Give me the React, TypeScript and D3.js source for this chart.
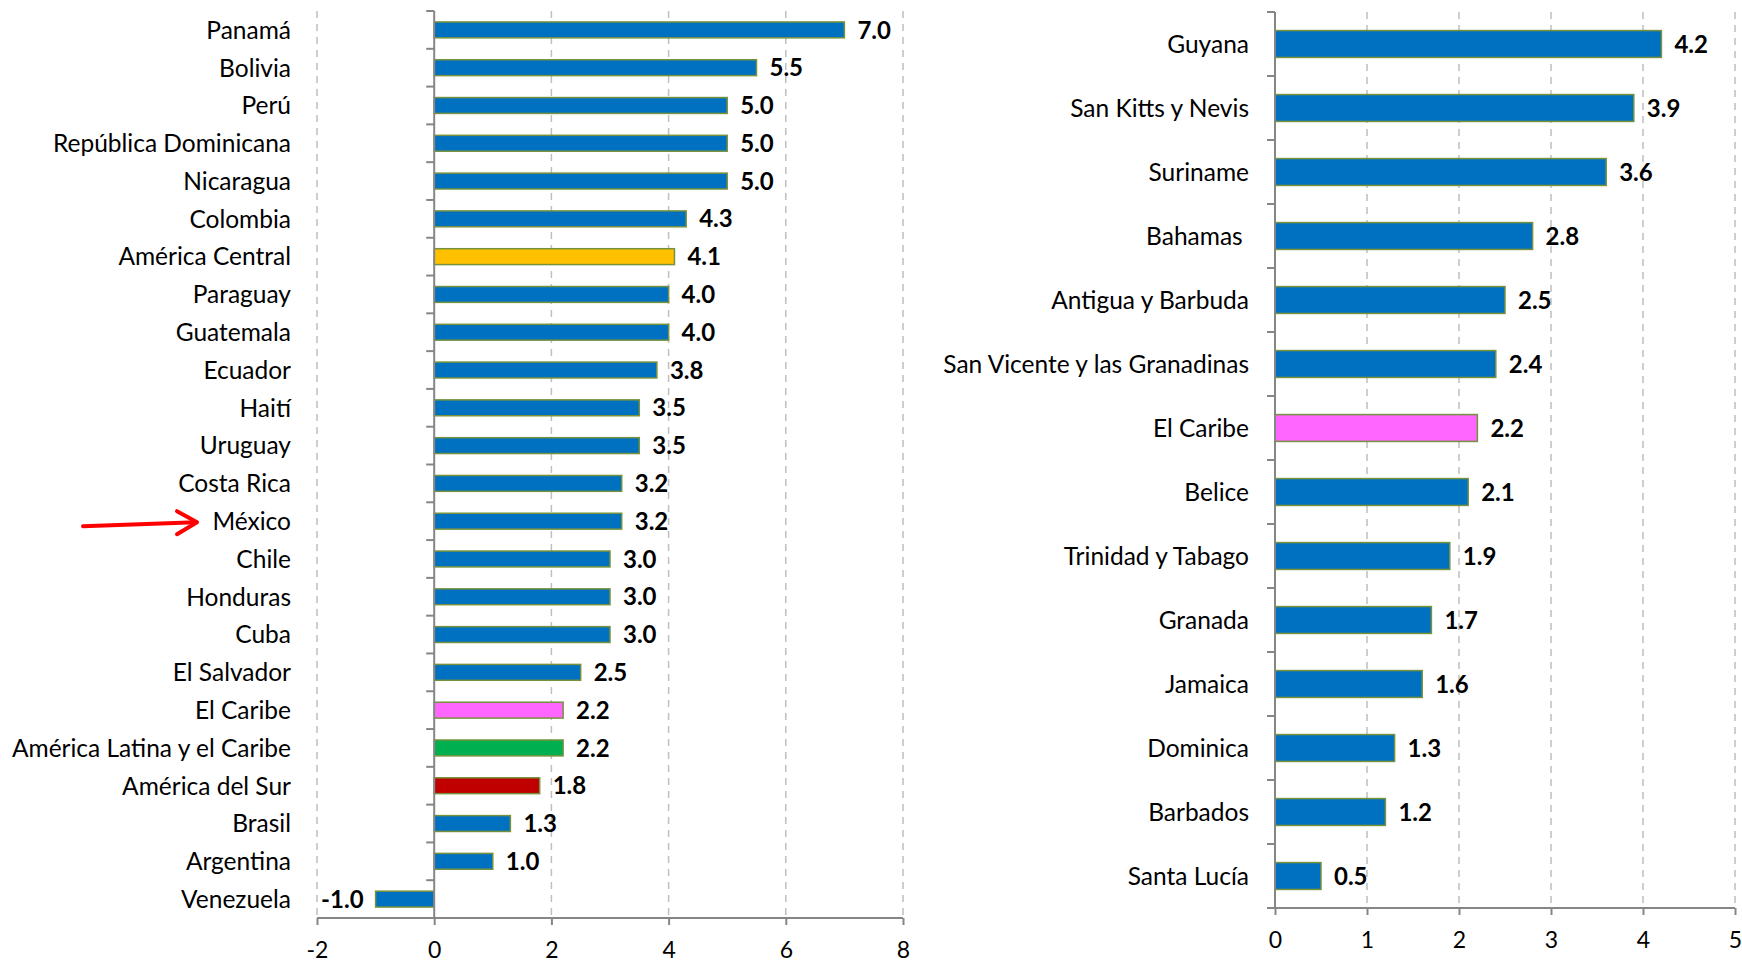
import { useEffect, useRef } from 'react';
import * as d3 from 'd3';

// Left panel: América Latina
const leftCategories = [
  'Panamá', 'Bolivia', 'Perú', 'República Dominicana', 'Nicaragua', 'Colombia',
  'América Central', 'Paraguay', 'Guatemala', 'Ecuador', 'Haití', 'Uruguay',
  'Costa Rica', 'México', 'Chile', 'Honduras', 'Cuba', 'El Salvador', 'El Caribe',
  'América Latina y el Caribe', 'América del Sur', 'Brasil', 'Argentina', 'Venezuela',
];
const leftValues = [
  7.0, 5.5, 5.0, 5.0, 5.0, 4.3, 4.1, 4.0, 4.0, 3.8, 3.5, 3.5,
  3.2, 3.2, 3.0, 3.0, 3.0, 2.5, 2.2, 2.2, 1.8, 1.3, 1.0, -1.0,
];
const leftTicks = [-2, 0, 2, 4, 6, 8];

// Right panel: El Caribe
const rightCategories = [
  'Guyana', 'San Kitts y Nevis', 'Suriname', 'Bahamas ', 'Antigua y Barbuda',
  'San Vicente y las Granadinas', 'El Caribe', 'Belice', 'Trinidad y Tabago',
  'Granada', 'Jamaica', 'Dominica', 'Barbados', 'Santa Lucía',
];
const rightValues = [4.2, 3.9, 3.6, 2.8, 2.5, 2.4, 2.2, 2.1, 1.9, 1.7, 1.6, 1.3, 1.2, 0.5];
const rightTicks = [0, 1, 2, 3, 4, 5];

const highlight: Record<string, string> = {
  'América Central': '#FFC000',
  'El Caribe': '#FF66FF',
  'América Latina y el Caribe': '#00B050',
  'América del Sur': '#C00000',
};

const FONT = 'Lato, "Open Sans", sans-serif';

type Panel = {
  cats: string[];
  vals: number[];
  ticks: number[];
  x0: number;
  x1: number;
  top: number;
  bottom: number;
  labelX: number;
};

function drawPanel(svg: d3.Selection<SVGSVGElement, unknown, null, undefined>, p: Panel) {
  const g = svg.append('g');
  const x = d3.scaleLinear()
    .domain([p.ticks[0], p.ticks[p.ticks.length - 1]])
    .range([p.x0, p.x1]);
  const y = d3.scaleBand<string>()
    .domain(p.cats)
    .range([p.top, p.bottom])
    .paddingInner(0.58)
    .paddingOuter(0.29);
  const step = y.step();

  // dashed vertical gridlines
  g.selectAll('line.grid')
    .data(p.ticks.filter(t => t !== 0))
    .join('line')
    .attr('x1', d => x(d)).attr('x2', d => x(d))
    .attr('y1', p.top).attr('y2', p.bottom)
    .attr('stroke', '#BFBFBF')
    .attr('stroke-width', 1.5)
    .attr('stroke-dasharray', '7,6');

  // bars
  g.selectAll('rect.bar')
    .data(p.cats)
    .join('rect')
    .attr('x', (_, i) => x(Math.min(0, p.vals[i])))
    .attr('y', d => y(d)!)
    .attr('width', (_, i) => Math.abs(x(p.vals[i]) - x(0)))
    .attr('height', y.bandwidth())
    .attr('fill', d => highlight[d] ?? '#0070C0')
    .attr('stroke', '#76923C')
    .attr('stroke-width', 1.5);

  // value labels
  g.selectAll('text.val')
    .data(p.cats)
    .join('text')
    .attr('x', (_, i) => x(p.vals[i]) + (p.vals[i] < 0 ? -12 : 13))
    .attr('y', d => y(d)! + y.bandwidth() / 2)
    .attr('dy', '0.36em')
    .attr('text-anchor', (_, i) => (p.vals[i] < 0 ? 'end' : 'start'))
    .attr('font-family', FONT)
    .attr('font-weight', 700)
    .attr('font-size', 24)
    .attr('fill', '#000')
    .text((_, i) => p.vals[i].toFixed(1));

  // category labels
  g.selectAll('text.cat')
    .data(p.cats)
    .join('text')
    .attr('x', p.labelX)
    .attr('y', d => y(d)! + y.bandwidth() / 2)
    .attr('dy', '0.36em')
    .attr('text-anchor', 'end')
    .attr('font-family', FONT)
    .attr('font-size', 24.5)
    .attr('fill', '#000')
    .style('white-space', 'pre')
    .text(d => d);

  // vertical axis at 0 with category ticks
  const ax = x(0);
  g.append('line')
    .attr('x1', ax).attr('x2', ax)
    .attr('y1', p.top).attr('y2', p.bottom)
    .attr('stroke', '#868686').attr('stroke-width', 2);
  g.selectAll('line.ctick')
    .data(d3.range(p.cats.length + 1))
    .join('line')
    .attr('x1', ax - 8).attr('x2', ax)
    .attr('y1', i => p.top + i * step).attr('y2', i => p.top + i * step)
    .attr('stroke', '#868686').attr('stroke-width', 2);

  // bottom axis
  const axis = g.append('g')
    .attr('transform', `translate(0,${p.bottom})`)
    .call(d3.axisBottom(x).tickValues(p.ticks).tickSize(7).tickPadding(17).tickFormat(d3.format('d')));
  axis.select('.domain')
    .attr('d', `M${p.x0},0H${p.x1}`)
    .attr('stroke', '#868686').attr('stroke-width', 2);
  axis.selectAll('.tick line').attr('stroke', '#868686').attr('stroke-width', 2);
  axis.selectAll('.tick text')
    .attr('font-family', FONT)
    .attr('font-size', 23)
    .attr('fill', '#000')
    .text(d => String(d));

  return { x, y };
}

export default function App() {
  const svgRef = useRef<SVGSVGElement>(null);

  useEffect(() => {
    if (!svgRef.current) return;
    document.body.style.margin = '0';
    const svg = d3.select(svgRef.current);
    svg.selectAll('*').remove();

    const left = drawPanel(svg, {
      cats: leftCategories, vals: leftValues, ticks: leftTicks,
      x0: 317, x1: 903, top: 11, bottom: 918, labelX: 291,
    });
    drawPanel(svg, {
      cats: rightCategories, vals: rightValues, ticks: rightTicks,
      x0: 1275, x1: 1735, top: 12, bottom: 908, labelX: 1249,
    });

    // red arrow pointing at México
    const my = left.y('México')! + left.y.bandwidth() / 2;
    const arrow = svg.append('g')
      .attr('stroke', '#FF0000')
      .attr('stroke-width', 4)
      .attr('fill', 'none')
      .attr('stroke-linecap', 'round')
      .attr('stroke-linejoin', 'round');
    arrow.append('line')
      .attr('x1', 83).attr('y1', my + 5)
      .attr('x2', 196).attr('y2', my + 1);
    arrow.append('path')
      .attr('d', `M177,${my - 10}L197,${my + 1}L177,${my + 13}`);
  }, []);

  return (
    <svg ref={svgRef} width={1742} height={962} style={{ display: 'block', background: '#fff' }} />
  );
}
